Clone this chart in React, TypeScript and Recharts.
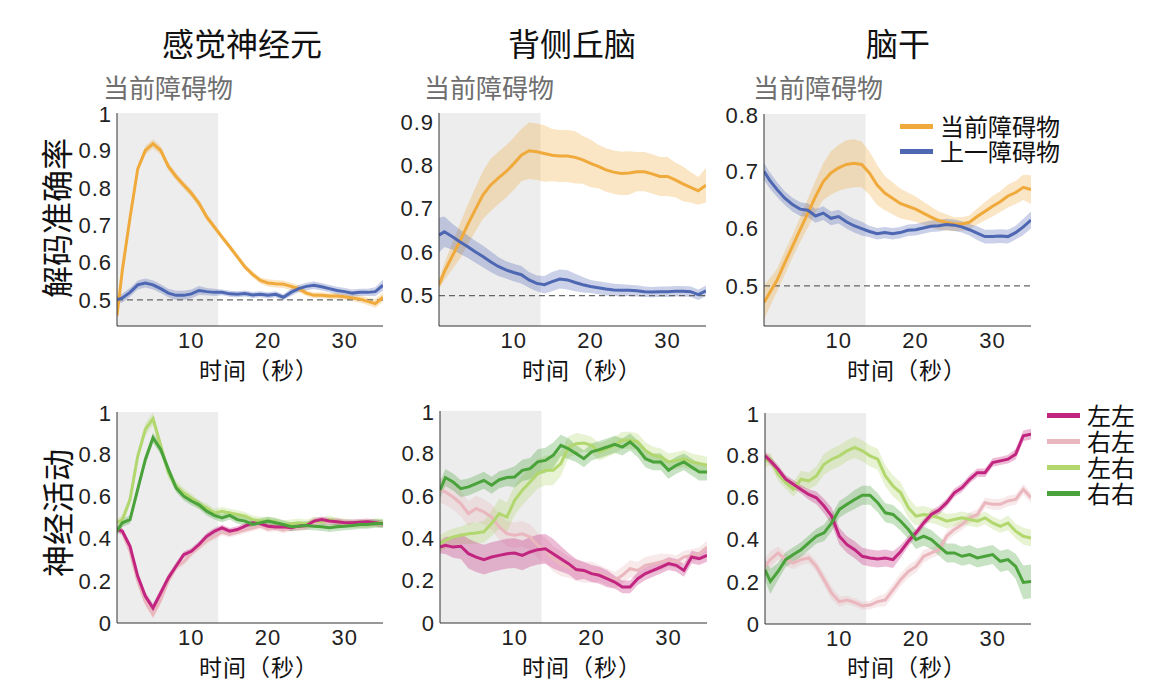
import React from "react";
import { ComposedChart, Line, Area, XAxis, YAxis, ReferenceArea, ReferenceLine } from "recharts";

// time axis (seconds)
const times = [0.3, 1, 2, 3, 4, 5, 6, 7, 8, 9, 10, 11, 12, 13, 14, 15, 16, 17, 18, 19, 20, 21, 22, 23, 24, 25, 26, 27, 28, 29, 30, 31, 32, 33, 34, 35];
const xTicks = [10, 20, 30];

// decoding accuracy, top row
const sensCur = [0.458, 0.58, 0.72, 0.85, 0.9, 0.918, 0.9, 0.857, 0.83, 0.807, 0.785, 0.758, 0.722, 0.695, 0.668, 0.642, 0.615, 0.588, 0.568, 0.552, 0.545, 0.543, 0.542, 0.536, 0.53, 0.518, 0.512, 0.512, 0.51, 0.51, 0.508, 0.505, 0.502, 0.496, 0.49, 0.507];
const sensCurErr = [0.01, 0.01, 0.01, 0.01, 0.012, 0.012, 0.012, 0.01, 0.01, 0.01, 0.01, 0.01, 0.01, 0.008, 0.008, 0.008, 0.008, 0.008, 0.008, 0.008, 0.01, 0.01, 0.01, 0.01, 0.01, 0.008, 0.008, 0.008, 0.008, 0.008, 0.008, 0.008, 0.01, 0.01, 0.012, 0.012];
const sensPrev = [0.5, 0.505, 0.52, 0.54, 0.545, 0.54, 0.53, 0.518, 0.512, 0.512, 0.516, 0.525, 0.522, 0.52, 0.52, 0.516, 0.515, 0.517, 0.513, 0.515, 0.512, 0.515, 0.507, 0.52, 0.53, 0.536, 0.539, 0.535, 0.53, 0.525, 0.522, 0.518, 0.52, 0.52, 0.522, 0.539];
const sensPrevErr = [0.01, 0.012, 0.012, 0.012, 0.012, 0.012, 0.012, 0.012, 0.012, 0.012, 0.012, 0.012, 0.01, 0.01, 0.008, 0.008, 0.008, 0.008, 0.008, 0.008, 0.008, 0.008, 0.008, 0.01, 0.01, 0.01, 0.01, 0.01, 0.01, 0.01, 0.01, 0.01, 0.01, 0.01, 0.012, 0.015];

const thalCur = [0.525, 0.555, 0.59, 0.624, 0.662, 0.697, 0.731, 0.754, 0.77, 0.785, 0.803, 0.823, 0.833, 0.831, 0.827, 0.823, 0.821, 0.821, 0.818, 0.812, 0.804, 0.797, 0.789, 0.784, 0.781, 0.782, 0.785, 0.785, 0.78, 0.774, 0.774, 0.766, 0.757, 0.749, 0.741, 0.754];
const thalCurErr = [0.01, 0.02, 0.03, 0.04, 0.045, 0.05, 0.055, 0.06, 0.06, 0.06, 0.06, 0.06, 0.065, 0.065, 0.065, 0.06, 0.06, 0.06, 0.06, 0.055, 0.055, 0.05, 0.05, 0.05, 0.05, 0.05, 0.045, 0.045, 0.045, 0.045, 0.045, 0.04, 0.04, 0.035, 0.032, 0.04];
const thalPrev = [0.639, 0.647, 0.636, 0.624, 0.613, 0.601, 0.59, 0.578, 0.567, 0.559, 0.553, 0.548, 0.536, 0.528, 0.525, 0.532, 0.538, 0.536, 0.53, 0.525, 0.521, 0.518, 0.515, 0.513, 0.512, 0.512, 0.511, 0.509, 0.508, 0.509, 0.509, 0.51, 0.51, 0.509, 0.502, 0.511];
const thalPrevErr = [0.04, 0.035, 0.03, 0.028, 0.026, 0.025, 0.025, 0.024, 0.022, 0.02, 0.02, 0.02, 0.018, 0.018, 0.02, 0.022, 0.022, 0.022, 0.02, 0.018, 0.015, 0.015, 0.015, 0.014, 0.014, 0.013, 0.013, 0.012, 0.012, 0.012, 0.012, 0.012, 0.012, 0.012, 0.012, 0.012];

const stemCur = [0.471, 0.487, 0.51, 0.54, 0.569, 0.598, 0.627, 0.656, 0.682, 0.697, 0.706, 0.712, 0.714, 0.712, 0.697, 0.676, 0.662, 0.653, 0.644, 0.639, 0.634, 0.627, 0.62, 0.614, 0.611, 0.608, 0.608, 0.611, 0.621, 0.63, 0.639, 0.647, 0.657, 0.663, 0.672, 0.668];
const stemCurErr = [0.03, 0.025, 0.02, 0.02, 0.02, 0.022, 0.025, 0.028, 0.032, 0.038, 0.04, 0.042, 0.042, 0.04, 0.038, 0.035, 0.03, 0.028, 0.026, 0.024, 0.022, 0.02, 0.018, 0.016, 0.014, 0.012, 0.012, 0.012, 0.014, 0.016, 0.018, 0.018, 0.02, 0.02, 0.022, 0.025];
const stemPrev = [0.7, 0.685, 0.668, 0.653, 0.642, 0.634, 0.632, 0.622, 0.627, 0.618, 0.621, 0.612, 0.605, 0.6, 0.595, 0.591, 0.593, 0.591, 0.593, 0.597, 0.598, 0.601, 0.604, 0.605, 0.607, 0.606, 0.603, 0.598, 0.592, 0.586, 0.586, 0.587, 0.586, 0.593, 0.603, 0.615];
const stemPrevErr = [0.015, 0.014, 0.013, 0.012, 0.012, 0.012, 0.012, 0.012, 0.012, 0.012, 0.012, 0.012, 0.012, 0.012, 0.01, 0.01, 0.01, 0.01, 0.01, 0.01, 0.01, 0.01, 0.01, 0.01, 0.01, 0.01, 0.01, 0.01, 0.012, 0.012, 0.012, 0.012, 0.012, 0.012, 0.014, 0.015];

// neural activity, bottom row (LL 左左, RL 右左, LR 左右, RR 右右)
const sensLL = [0.443, 0.435, 0.364, 0.222, 0.127, 0.071, 0.142, 0.214, 0.269, 0.324, 0.34, 0.372, 0.411, 0.435, 0.451, 0.435, 0.443, 0.459, 0.475, 0.47, 0.459, 0.455, 0.456, 0.451, 0.459, 0.462, 0.483, 0.49, 0.483, 0.48, 0.475, 0.475, 0.478, 0.48, 0.475, 0.47];
const sensRL = [0.45, 0.43, 0.34, 0.2, 0.1, 0.04, 0.11, 0.2, 0.265, 0.29, 0.33, 0.36, 0.39, 0.41, 0.43, 0.42, 0.43, 0.44, 0.45, 0.46, 0.445, 0.45, 0.44, 0.45, 0.45, 0.455, 0.47, 0.48, 0.475, 0.48, 0.47, 0.47, 0.468, 0.472, 0.47, 0.465];
const sensLR = [0.475, 0.49, 0.585, 0.79, 0.918, 0.968, 0.84, 0.712, 0.649, 0.617, 0.593, 0.562, 0.546, 0.522, 0.53, 0.522, 0.514, 0.506, 0.49, 0.483, 0.483, 0.48, 0.467, 0.47, 0.475, 0.47, 0.483, 0.48, 0.49, 0.48, 0.475, 0.47, 0.47, 0.47, 0.475, 0.475];
const sensRR = [0.435, 0.475, 0.49, 0.633, 0.775, 0.878, 0.823, 0.728, 0.641, 0.601, 0.578, 0.56, 0.53, 0.51, 0.498, 0.51, 0.49, 0.483, 0.467, 0.475, 0.483, 0.475, 0.467, 0.456, 0.459, 0.462, 0.459, 0.456, 0.451, 0.456, 0.459, 0.462, 0.467, 0.467, 0.472, 0.47];
const sensLLErr = [0.015, 0.015, 0.015, 0.018, 0.02, 0.02, 0.02, 0.018, 0.018, 0.015, 0.015, 0.015, 0.015, 0.015, 0.015, 0.015, 0.015, 0.015, 0.015, 0.015, 0.015, 0.015, 0.015, 0.015, 0.015, 0.015, 0.015, 0.015, 0.015, 0.015, 0.015, 0.015, 0.015, 0.015, 0.015, 0.015];
const sensRLErr = [0.015, 0.015, 0.015, 0.018, 0.02, 0.02, 0.02, 0.018, 0.018, 0.015, 0.015, 0.015, 0.015, 0.015, 0.015, 0.015, 0.015, 0.015, 0.015, 0.015, 0.015, 0.015, 0.015, 0.015, 0.015, 0.015, 0.015, 0.015, 0.015, 0.015, 0.015, 0.015, 0.015, 0.015, 0.015, 0.015];
const sensLRErr = [0.02, 0.02, 0.022, 0.025, 0.03, 0.03, 0.03, 0.028, 0.025, 0.022, 0.02, 0.02, 0.02, 0.02, 0.02, 0.02, 0.02, 0.02, 0.02, 0.02, 0.02, 0.02, 0.02, 0.02, 0.02, 0.02, 0.02, 0.02, 0.02, 0.02, 0.02, 0.02, 0.02, 0.02, 0.02, 0.02];
const sensRRErr = [0.02, 0.02, 0.02, 0.022, 0.025, 0.025, 0.025, 0.022, 0.02, 0.02, 0.02, 0.02, 0.02, 0.02, 0.02, 0.02, 0.02, 0.02, 0.02, 0.02, 0.02, 0.02, 0.02, 0.02, 0.02, 0.02, 0.02, 0.02, 0.02, 0.02, 0.02, 0.02, 0.02, 0.02, 0.02, 0.02];

const thalLL = [0.358, 0.366, 0.358, 0.362, 0.327, 0.311, 0.299, 0.311, 0.319, 0.327, 0.33, 0.319, 0.335, 0.346, 0.35, 0.327, 0.303, 0.28, 0.252, 0.248, 0.233, 0.225, 0.209, 0.193, 0.17, 0.17, 0.209, 0.233, 0.248, 0.264, 0.28, 0.272, 0.248, 0.311, 0.303, 0.319];
const thalRL = [0.626, 0.618, 0.594, 0.563, 0.516, 0.54, 0.524, 0.5, 0.453, 0.421, 0.414, 0.421, 0.406, 0.366, 0.343, 0.303, 0.28, 0.264, 0.248, 0.24, 0.24, 0.233, 0.217, 0.201, 0.225, 0.256, 0.248, 0.272, 0.28, 0.288, 0.296, 0.288, 0.311, 0.319, 0.327, 0.358];
const thalLR = [0.374, 0.39, 0.406, 0.414, 0.421, 0.425, 0.43, 0.469, 0.516, 0.5, 0.579, 0.626, 0.665, 0.704, 0.72, 0.72, 0.752, 0.83, 0.846, 0.849, 0.838, 0.807, 0.822, 0.838, 0.862, 0.862, 0.854, 0.814, 0.791, 0.783, 0.76, 0.767, 0.775, 0.76, 0.752, 0.744];
const thalRR = [0.626, 0.686, 0.665, 0.634, 0.642, 0.657, 0.673, 0.65, 0.676, 0.686, 0.689, 0.72, 0.728, 0.76, 0.767, 0.791, 0.838, 0.822, 0.799, 0.775, 0.807, 0.818, 0.83, 0.843, 0.83, 0.854, 0.822, 0.775, 0.76, 0.76, 0.72, 0.744, 0.76, 0.736, 0.712, 0.712];
const thalLLErr = [0.03, 0.04, 0.05, 0.06, 0.07, 0.07, 0.07, 0.07, 0.07, 0.07, 0.07, 0.07, 0.07, 0.07, 0.07, 0.07, 0.06, 0.05, 0.05, 0.04, 0.04, 0.04, 0.04, 0.03, 0.03, 0.03, 0.03, 0.03, 0.03, 0.03, 0.03, 0.03, 0.03, 0.03, 0.03, 0.03];
const thalRLErr = [0.06, 0.06, 0.06, 0.06, 0.06, 0.06, 0.06, 0.06, 0.06, 0.06, 0.06, 0.06, 0.06, 0.06, 0.06, 0.06, 0.06, 0.05, 0.05, 0.05, 0.05, 0.04, 0.04, 0.04, 0.04, 0.04, 0.04, 0.04, 0.04, 0.04, 0.03, 0.03, 0.03, 0.03, 0.03, 0.03];
const thalLRErr = [0.04, 0.04, 0.04, 0.04, 0.05, 0.05, 0.05, 0.06, 0.07, 0.07, 0.07, 0.07, 0.07, 0.07, 0.07, 0.07, 0.06, 0.05, 0.05, 0.04, 0.04, 0.04, 0.04, 0.04, 0.04, 0.04, 0.04, 0.04, 0.04, 0.04, 0.04, 0.04, 0.04, 0.04, 0.04, 0.04];
const thalRRErr = [0.04, 0.04, 0.04, 0.04, 0.04, 0.04, 0.04, 0.04, 0.04, 0.04, 0.05, 0.05, 0.05, 0.06, 0.06, 0.06, 0.05, 0.05, 0.04, 0.04, 0.04, 0.04, 0.04, 0.04, 0.04, 0.04, 0.04, 0.04, 0.04, 0.04, 0.04, 0.04, 0.04, 0.04, 0.04, 0.04];

const stemLL = [0.797, 0.773, 0.733, 0.686, 0.662, 0.638, 0.614, 0.598, 0.559, 0.511, 0.416, 0.376, 0.352, 0.321, 0.313, 0.308, 0.313, 0.305, 0.344, 0.392, 0.432, 0.479, 0.519, 0.54, 0.575, 0.622, 0.646, 0.686, 0.717, 0.717, 0.765, 0.773, 0.781, 0.805, 0.892, 0.9];
const stemRL = [0.273, 0.305, 0.337, 0.305, 0.289, 0.305, 0.313, 0.273, 0.21, 0.146, 0.106, 0.114, 0.102, 0.086, 0.09, 0.106, 0.114, 0.162, 0.21, 0.249, 0.273, 0.321, 0.337, 0.352, 0.416, 0.448, 0.471, 0.503, 0.519, 0.575, 0.567, 0.567, 0.583, 0.59, 0.638, 0.598];
const stemLR = [0.773, 0.781, 0.71, 0.67, 0.638, 0.686, 0.678, 0.702, 0.757, 0.781, 0.797, 0.821, 0.837, 0.821, 0.797, 0.781, 0.702, 0.654, 0.622, 0.551, 0.511, 0.519, 0.514, 0.503, 0.487, 0.495, 0.503, 0.495, 0.487, 0.503, 0.479, 0.463, 0.479, 0.44, 0.416, 0.408];
const stemRR = [0.257, 0.202, 0.249, 0.305, 0.329, 0.352, 0.384, 0.416, 0.432, 0.479, 0.543, 0.567, 0.59, 0.61, 0.61, 0.575, 0.527, 0.519, 0.487, 0.448, 0.4, 0.416, 0.4, 0.368, 0.337, 0.337, 0.321, 0.329, 0.313, 0.321, 0.329, 0.297, 0.305, 0.273, 0.197, 0.202];
const stemLLErr = [0.02, 0.02, 0.02, 0.02, 0.02, 0.02, 0.025, 0.03, 0.035, 0.04, 0.04, 0.04, 0.04, 0.04, 0.04, 0.04, 0.04, 0.04, 0.03, 0.025, 0.02, 0.02, 0.02, 0.02, 0.02, 0.02, 0.02, 0.02, 0.02, 0.02, 0.02, 0.02, 0.02, 0.025, 0.025, 0.025];
const stemRLErr = [0.04, 0.04, 0.03, 0.03, 0.03, 0.025, 0.025, 0.025, 0.03, 0.03, 0.025, 0.02, 0.02, 0.02, 0.02, 0.025, 0.03, 0.03, 0.03, 0.03, 0.03, 0.03, 0.025, 0.025, 0.025, 0.025, 0.025, 0.025, 0.025, 0.025, 0.025, 0.025, 0.025, 0.025, 0.025, 0.025];
const stemLRErr = [0.03, 0.03, 0.03, 0.03, 0.035, 0.04, 0.04, 0.045, 0.05, 0.05, 0.05, 0.05, 0.05, 0.05, 0.05, 0.05, 0.05, 0.05, 0.05, 0.05, 0.045, 0.04, 0.035, 0.035, 0.035, 0.03, 0.03, 0.03, 0.03, 0.03, 0.03, 0.03, 0.035, 0.035, 0.04, 0.04];
const stemRRErr = [0.05, 0.06, 0.04, 0.035, 0.035, 0.035, 0.035, 0.035, 0.04, 0.04, 0.04, 0.04, 0.045, 0.045, 0.045, 0.045, 0.045, 0.045, 0.045, 0.045, 0.045, 0.045, 0.045, 0.045, 0.045, 0.045, 0.045, 0.045, 0.045, 0.045, 0.045, 0.05, 0.05, 0.06, 0.08, 0.08];

const columnTitles = ["感觉神经元", "背侧丘脑", "脑干"];
const subTitle = "当前障碍物";
const accLabel = "解码准确率";
const actLabel = "神经活动";
const timeLabel = "时间（秒）";
const accLegend = ["当前障碍物", "上一障碍物"];
const actLegend = ["左左", "右左", "左右", "右右"];

const ORANGE = "#F0AA3C";
const BLUE = "#4E67B2";
const MAGENTA = "#C2257F";
const PINK = "#E9B7BD";
const LGREEN = "#B1D76E";
const GREEN = "#49A23A";
const actColors = [MAGENTA, PINK, LGREEN, GREEN];

const FONT = "'Liberation Sans', 'Noto Sans CJK SC', sans-serif";
const CJK = "'Noto Sans CJK SC', sans-serif";

const YAW = 64;
const XAH = 30;
const TOP = 12;
const RIGHT = 6;

type Series = { key: string; values: number[]; err: number[]; color: string };

function Panel({ x, y, w, h, yDomain, yTicks, series, chance }: {
  x: number; y: number; w: number; h: number;
  yDomain: [number, number]; yTicks: number[]; series: Series[]; chance?: boolean;
}) {
  const rows = times.map((t, i) => {
    const r: any = { t };
    series.forEach((s) => {
      r[s.key] = s.values[i];
      r[s.key + "Band"] = [s.values[i] - s.err[i], s.values[i] + s.err[i]];
    });
    return r;
  });
  const tickStyle = { fontSize: 22, fill: "#222", fontFamily: FONT, letterSpacing: 1 };
  return (
    <div style={{ position: "absolute", left: x - YAW, top: y - TOP }}>
      <ComposedChart width={w + YAW + RIGHT} height={h + TOP + XAH} data={rows}
        margin={{ top: TOP, right: RIGHT, left: 0, bottom: 0 }}>
        <ReferenceArea x1={0.3} x2={13.5} y1={yDomain[0]} y2={yDomain[1]} fill="#EDEDED" fillOpacity={1} stroke="none" ifOverflow="hidden" />
        <XAxis type="number" dataKey="t" domain={[0.3, 35]} ticks={xTicks} allowDataOverflow
          height={XAH} tickLine={false} tickSize={0} tickMargin={6} tick={tickStyle}
          axisLine={{ stroke: "#333", strokeWidth: 1 }} />
        <YAxis type="number" domain={yDomain} ticks={yTicks} allowDataOverflow width={YAW}
          tickLine={false} tickSize={0} tickMargin={5} tick={tickStyle}
          tickFormatter={(v: number) => String(Math.round(v * 10) / 10)}
          axisLine={{ stroke: "#333", strokeWidth: 1 }} />
        {chance && <ReferenceLine y={0.5} stroke="#666" strokeWidth={1.2} strokeDasharray="6 4" />}
        {series.map((s) => (
          <Area key={s.key + "Band"} type="linear" dataKey={s.key + "Band"} stroke="none"
            fill={s.color} fillOpacity={0.3} isAnimationActive={false} activeDot={false} dot={false} />
        ))}
        {series.map((s) => (
          <Line key={s.key} type="linear" dataKey={s.key} stroke={s.color} strokeWidth={3}
            dot={false} activeDot={false} isAnimationActive={false} />
        ))}
      </ComposedChart>
    </div>
  );
}

function Text({ x, y, size, color = "#111", rotate, spacing = 0, children }: any) {
  return (
    <div style={{
      position: "absolute", left: x, top: y, fontSize: size, color, fontFamily: CJK,
      whiteSpace: "nowrap", lineHeight: 1, letterSpacing: spacing,
      transform: `translate(-50%, -50%)${rotate ? " rotate(-90deg)" : ""}`,
    }}>{children}</div>
  );
}

function LegendBox({ x, y, items, colors, gap, size }: any) {
  return (
    <div style={{ position: "absolute", left: x, top: y, fontFamily: CJK }}>
      {items.map((name: string, i: number) => (
        <div key={name} style={{ position: "absolute", top: i * gap, left: 0, display: "flex", alignItems: "center", transform: "translateY(-50%)", whiteSpace: "nowrap" }}>
          <div style={{ width: 33, height: 5, background: colors[i], marginRight: 7 }} />
          <span style={{ fontSize: size, color: "#111", lineHeight: 1 }}>{name}</span>
        </div>
      ))}
    </div>
  );
}

export default function App() {
  const accTicks1 = [0.5, 0.6, 0.7, 0.8, 0.9, 1];
  const accTicks2 = [0.5, 0.6, 0.7, 0.8, 0.9];
  const accTicks3 = [0.5, 0.6, 0.7, 0.8];
  const actTicks = [0, 0.2, 0.4, 0.6, 0.8, 1];
  const acc = (cur: number[], curErr: number[], prev: number[], prevErr: number[]): Series[] => [
    { key: "cur", values: cur, err: curErr, color: ORANGE },
    { key: "prev", values: prev, err: prevErr, color: BLUE },
  ];
  const act = (ll: number[], lle: number[], rl: number[], rle: number[], lr: number[], lre: number[], rr: number[], rre: number[]): Series[] => [
    { key: "rl", values: rl, err: rle, color: PINK },
    { key: "lr", values: lr, err: lre, color: LGREEN },
    { key: "ll", values: ll, err: lle, color: MAGENTA },
    { key: "rr", values: rr, err: rre, color: GREEN },
  ];
  return (
    <div style={{ position: "absolute", left: 0, top: 0, width: 1176, height: 693, background: "#fff", overflow: "hidden" }}>
      <Text x={242} y={42} size={32}>{columnTitles[0]}</Text>
      <Text x={572} y={42} size={32}>{columnTitles[1]}</Text>
      <Text x={898} y={42} size={32}>{columnTitles[2]}</Text>

      <Text x={168} y={87} size={26} color="#6f6f6f">{subTitle}</Text>
      <Text x={489} y={87} size={26} color="#6f6f6f">{subTitle}</Text>
      <Text x={818} y={87} size={26} color="#6f6f6f">{subTitle}</Text>

      <Text x={55} y={218} size={32} rotate>{accLabel}</Text>
      <Text x={56} y={513} size={32} rotate>{actLabel}</Text>

      <Panel x={117} y={113} w={266} h={213} yDomain={[0.43, 1]} yTicks={accTicks1} chance
        series={acc(sensCur, sensCurErr, sensPrev, sensPrevErr)} />
      <Panel x={439} y={113} w={267} h={213} yDomain={[0.43, 0.92]} yTicks={accTicks2} chance
        series={acc(thalCur, thalCurErr, thalPrev, thalPrevErr)} />
      <Panel x={764} y={114} w={267} h={212} yDomain={[0.43, 0.8]} yTicks={accTicks3} chance
        series={acc(stemCur, stemCurErr, stemPrev, stemPrevErr)} />

      <Panel x={117} y={412} w={266} h={211} yDomain={[0, 1]} yTicks={actTicks}
        series={act(sensLL, sensLLErr, sensRL, sensRLErr, sensLR, sensLRErr, sensRR, sensRRErr)} />
      <Panel x={440} y={411} w={267} h={212} yDomain={[0, 1]} yTicks={actTicks}
        series={act(thalLL, thalLLErr, thalRL, thalRLErr, thalLR, thalLRErr, thalRR, thalRRErr)} />
      <Panel x={765} y={413} w={266} h={211} yDomain={[0, 1]} yTicks={actTicks}
        series={act(stemLL, stemLLErr, stemRL, stemRLErr, stemLR, stemLRErr, stemRR, stemRRErr)} />

      <Text x={259} y={369} size={23} spacing={1}>{timeLabel}</Text>
      <Text x={582} y={369} size={23} spacing={1}>{timeLabel}</Text>
      <Text x={907} y={369} size={23} spacing={1}>{timeLabel}</Text>
      <Text x={259} y={666} size={23} spacing={1}>{timeLabel}</Text>
      <Text x={582} y={666} size={23} spacing={1}>{timeLabel}</Text>
      <Text x={907} y={666} size={23} spacing={1}>{timeLabel}</Text>

      <LegendBox x={900} y={126} items={accLegend} colors={[ORANGE, BLUE]} gap={25} size={24} />
      <LegendBox x={1047} y={415} items={actLegend} colors={actColors} gap={26} size={24} />
    </div>
  );
}
